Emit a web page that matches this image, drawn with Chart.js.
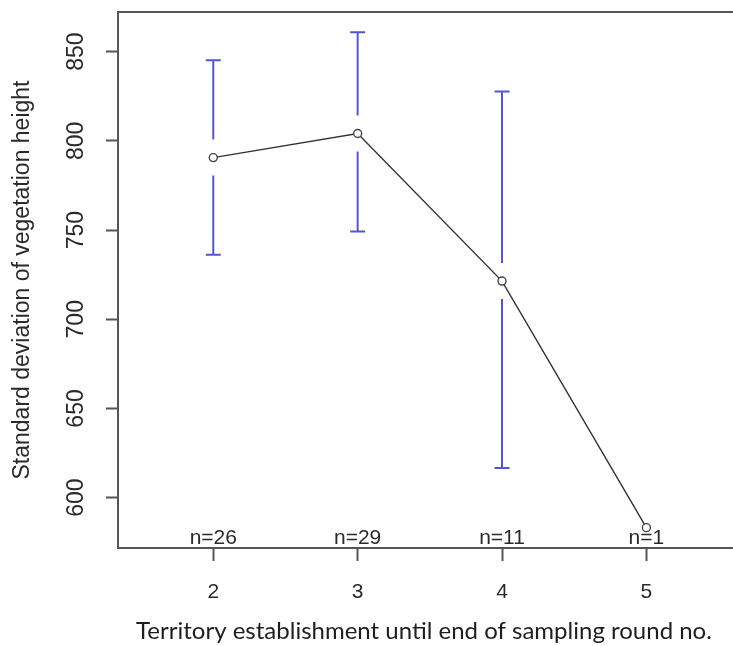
<!DOCTYPE html>
<html>
<head>
<meta charset="utf-8">
<script src="https://cdn.jsdelivr.net/npm/chart.js@4/dist/chart.umd.min.js"></script>
<style>
  html, body { margin: 0; padding: 0; background: #fff; }
  #wrap { width: 733px; height: 646px; }
</style>
</head>
<body>
<div id="wrap"><canvas id="chart"></canvas></div>
<script>
// values
const rounds = [2, 3, 4, 5];
const sdMeans = [790.6, 804.1, 721.4, 583.2];
const ciUpper = [845.2, 860.9, 827.6, null];
const ciLower = [736.2, 749.2, 616.6, null];
const sampleSizes = ['n=26', 'n=29', 'n=11', 'n=1'];
const yTicks = [600, 650, 700, 750, 800, 850];
const xTicks = [2, 3, 4, 5];

const axisColor = '#555555';
const barColor = '#5656cc';
const sansFont = '"Liberation Sans", Arial, sans-serif';

const points = rounds.map((r, i) => ({ x: r, y: sdMeans[i] }));

// draws the R-style bits: box top, tick labels, titles, n= labels, gapped error bars
const rStylePlugin = {
  id: 'rStyle',
  afterDatasetsDraw(chart) {
    const { ctx, chartArea, scales } = chart;
    const xs = scales.x;
    const ys = scales.y;
    ctx.save();

    // top border of the box
    ctx.strokeStyle = axisColor;
    ctx.lineWidth = 2;
    ctx.beginPath();
    ctx.moveTo(chartArea.left, chartArea.top);
    ctx.lineTo(chartArea.right, chartArea.top);
    ctx.stroke();

    // error bars with a gap around the point
    ctx.strokeStyle = barColor;
    ctx.lineWidth = 2;
    const gap = 18;
    const cap = 7.5;
    rounds.forEach((r, i) => {
      if (ciUpper[i] == null) return;
      const px = xs.getPixelForValue(r);
      const py = ys.getPixelForValue(sdMeans[i]);
      const top = ys.getPixelForValue(ciUpper[i]);
      const bot = ys.getPixelForValue(ciLower[i]);
      ctx.beginPath();
      ctx.moveTo(px, top);
      ctx.lineTo(px, py - gap);
      ctx.moveTo(px, py + gap);
      ctx.lineTo(px, bot);
      ctx.moveTo(px - cap, top);
      ctx.lineTo(px + cap, top);
      ctx.moveTo(px - cap, bot);
      ctx.lineTo(px + cap, bot);
      ctx.stroke();
    });

    ctx.fillStyle = '#2a2a2a';

    // n= labels along the bottom of the box
    ctx.font = '21px ' + sansFont;
    ctx.textAlign = 'center';
    ctx.textBaseline = 'alphabetic';
    rounds.forEach((r, i) => {
      ctx.fillText(sampleSizes[i], xs.getPixelForValue(r), chartArea.bottom - 4);
    });

    // x tick labels
    ctx.font = '21px ' + sansFont;
    ctx.textBaseline = 'middle';
    xTicks.forEach((t) => {
      ctx.fillText(String(t), xs.getPixelForValue(t), 592);
    });

    // y tick labels, rotated like R's las=0
    ctx.font = '23px ' + sansFont;
    yTicks.forEach((t) => {
      ctx.save();
      ctx.translate(77, ys.getPixelForValue(t));
      ctx.rotate(-Math.PI / 2);
      ctx.fillText(String(t), 0, 0);
      ctx.restore();
    });

    // y title
    ctx.save();
    ctx.font = '23px ' + sansFont;
    ctx.translate(23, (chartArea.top + chartArea.bottom) / 2);
    ctx.rotate(-Math.PI / 2);
    ctx.fillText('Standard deviation of vegetation height', 0, 0);
    ctx.restore();

    // x title
    ctx.font = '24px Lato, "Open Sans", sans-serif';
    ctx.fillStyle = '#1e1e1e';
    ctx.fillText('Territory establishment until end of sampling round no.', 424, 631);

    ctx.restore();
  },
};

new Chart(document.getElementById('chart'), {
  type: 'line',
  data: {
    datasets: [{
      data: points,
      borderColor: '#333333',
      borderWidth: 1.4,
      pointRadius: 4,
      pointHoverRadius: 4,
      pointBorderWidth: 1.4,
      pointBorderColor: '#444444',
      pointBackgroundColor: '#ffffff',
      tension: 0,
    }],
  },
  options: {
    responsive: true,
    maintainAspectRatio: false,
    animation: false,
    events: [],
    layout: { autoPadding: false, padding: { top: 12, right: 0, left: 0, bottom: 0 } },
    plugins: { legend: { display: false }, tooltip: { enabled: false } },
    scales: {
      x: {
        type: 'linear',
        min: 1.34,
        max: 5.6,
        afterBuildTicks: (scale) => { scale.ticks = xTicks.map((v) => ({ value: v })); },
        afterFit: (scale) => { scale.height = 98; },
        ticks: { display: false },
        grid: { display: true, drawOnChartArea: false, drawTicks: true, tickLength: 13, tickColor: axisColor, tickWidth: 2 },
        border: { display: true, color: axisColor, width: 2 },
      },
      y: {
        min: 571.8,
        max: 872.2,
        afterBuildTicks: (scale) => { scale.ticks = yTicks.map((v) => ({ value: v })); },
        afterFit: (scale) => { scale.width = 118; },
        ticks: { display: false },
        grid: { display: true, drawOnChartArea: false, drawTicks: true, tickLength: 12, tickColor: axisColor, tickWidth: 2 },
        border: { display: true, color: axisColor, width: 2 },
      },
    },
  },
  plugins: [rStylePlugin],
});
</script>
</body>
</html>
